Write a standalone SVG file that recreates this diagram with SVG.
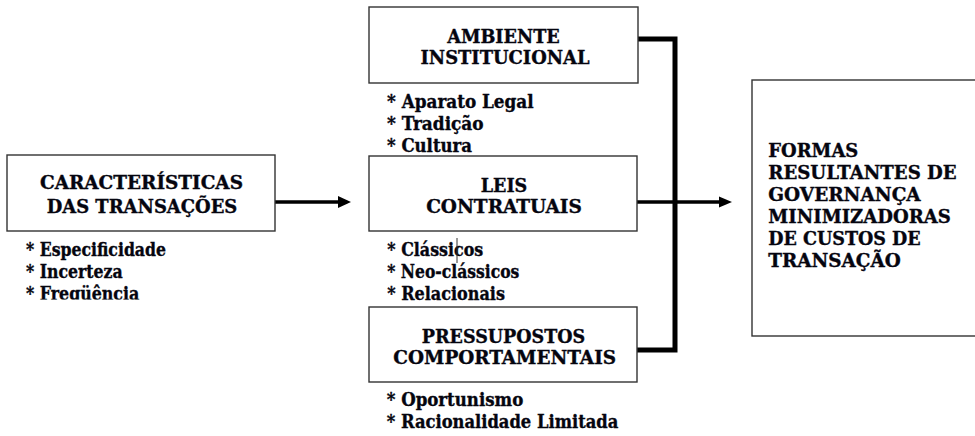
<svg xmlns="http://www.w3.org/2000/svg" width="975" height="436" viewBox="0 0 975 436">
  <style>
    .box { fill: #ffffff; stroke: #333333; stroke-width: 1.4; }
    text { font-family: 'DejaVu Serif Condensed', 'DejaVu Serif', serif; font-stretch: condensed; font-weight: 700; font-size: 19px; fill: #05050f; stroke: #05050f; stroke-width: 0.35; }
    .h { text-anchor: middle; }
    .thick { fill: none; stroke: #000000; stroke-width: 5; stroke-linejoin: miter; }
    .arr { fill: none; stroke: #000000; stroke-width: 3.5; }
    .head { fill: #000000; }
  </style>
  <defs>
    <clipPath id="cutLeft">
      <rect x="0" y="230" width="300" height="69.5"/>
    </clipPath>
  </defs>
  <rect x="0" y="0" width="975" height="436" fill="#ffffff"/>

  <g id="connectors">
    <line class="arr" x1="275" y1="202" x2="340" y2="202"/>
    <polygon class="head" points="338,196 351,202 338,208"/>
    <path class="thick" d="M638,39 H675 V350 H637"/>
    <line class="arr" x1="637" y1="202" x2="721" y2="202"/>
    <polygon class="head" points="719,196.5 732,202 719,207.5"/>
  </g>

  <g id="caracteristicas">
    <rect class="box" x="7" y="155" width="268" height="76"/>
    <text class="h" x="141.5" y="189" textLength="203" lengthAdjust="spacingAndGlyphs">CARACTERÍSTICAS</text>
    <text class="h" x="142" y="213" textLength="190.6" lengthAdjust="spacingAndGlyphs">DAS TRANSAÇÕES</text>
    <text x="26" y="256" textLength="140" lengthAdjust="spacingAndGlyphs">* Especificidade</text>
    <text x="26" y="278" textLength="96.7" lengthAdjust="spacingAndGlyphs">* Incerteza</text>
    <text x="26" y="300" textLength="113.3" lengthAdjust="spacingAndGlyphs" clip-path="url(#cutLeft)">* Freqüência</text>
  </g>

  <g id="ambiente">
    <text x="387" y="107.5" textLength="146.6" lengthAdjust="spacingAndGlyphs">* Aparato Legal</text>
    <text x="387" y="129.5" textLength="96.6" lengthAdjust="spacingAndGlyphs">* Tradição</text>
    <text x="387" y="152" textLength="85" lengthAdjust="spacingAndGlyphs">* Cultura</text>
    <rect class="box" x="369" y="7" width="269" height="76"/>
    <text class="h" x="503.5" y="42.5" textLength="112.6" lengthAdjust="spacingAndGlyphs">AMBIENTE</text>
    <text class="h" x="505" y="63.5" textLength="169" lengthAdjust="spacingAndGlyphs">INSTITUCIONAL</text>
  </g>

  <g id="leis">
    <rect class="box" x="369" y="156" width="268" height="75"/>
    <text class="h" x="504" y="192" textLength="46.6" lengthAdjust="spacingAndGlyphs">LEIS</text>
    <text class="h" x="504" y="213" textLength="155.7" lengthAdjust="spacingAndGlyphs">CONTRATUAIS</text>
    <text x="387.3" y="256" textLength="96" lengthAdjust="spacingAndGlyphs">* Clássicos</text>
    <text x="387.3" y="278" textLength="132" lengthAdjust="spacingAndGlyphs">* Neo-clássicos</text>
    <text x="387.3" y="300" textLength="117.7" lengthAdjust="spacingAndGlyphs">* Relacionais</text>
    <line x1="457" y1="238" x2="457" y2="263" stroke="#333333" stroke-width="1"/>
  </g>

  <g id="pressupostos">
    <rect class="box" x="369" y="307" width="268" height="75"/>
    <text class="h" x="503.5" y="343" textLength="163.3" lengthAdjust="spacingAndGlyphs">PRESSUPOSTOS</text>
    <text class="h" x="504.7" y="363.5" textLength="222.7" lengthAdjust="spacingAndGlyphs">COMPORTAMENTAIS</text>
    <text x="386.7" y="406" textLength="136.6" lengthAdjust="spacingAndGlyphs">* Oportunismo</text>
    <text x="386.7" y="428" textLength="231.6" lengthAdjust="spacingAndGlyphs">* Racionalidade Limitada</text>
  </g>

  <g id="formas">
    <rect class="box" x="752" y="80" width="240" height="256"/>
    <text x="768.3" y="157.3" textLength="90" lengthAdjust="spacingAndGlyphs">FORMAS</text>
    <text x="768.3" y="179.2" textLength="188.4" lengthAdjust="spacingAndGlyphs">RESULTANTES DE</text>
    <text x="768.3" y="201.1" textLength="152.4" lengthAdjust="spacingAndGlyphs">GOVERNANÇA</text>
    <text x="768.3" y="223" textLength="182.4" lengthAdjust="spacingAndGlyphs">MINIMIZADORAS</text>
    <text x="768.3" y="244.9" textLength="152.4" lengthAdjust="spacingAndGlyphs">DE CUSTOS DE</text>
    <text x="768.3" y="266.8" textLength="132.4" lengthAdjust="spacingAndGlyphs">TRANSAÇÃO</text>
  </g>
</svg>
